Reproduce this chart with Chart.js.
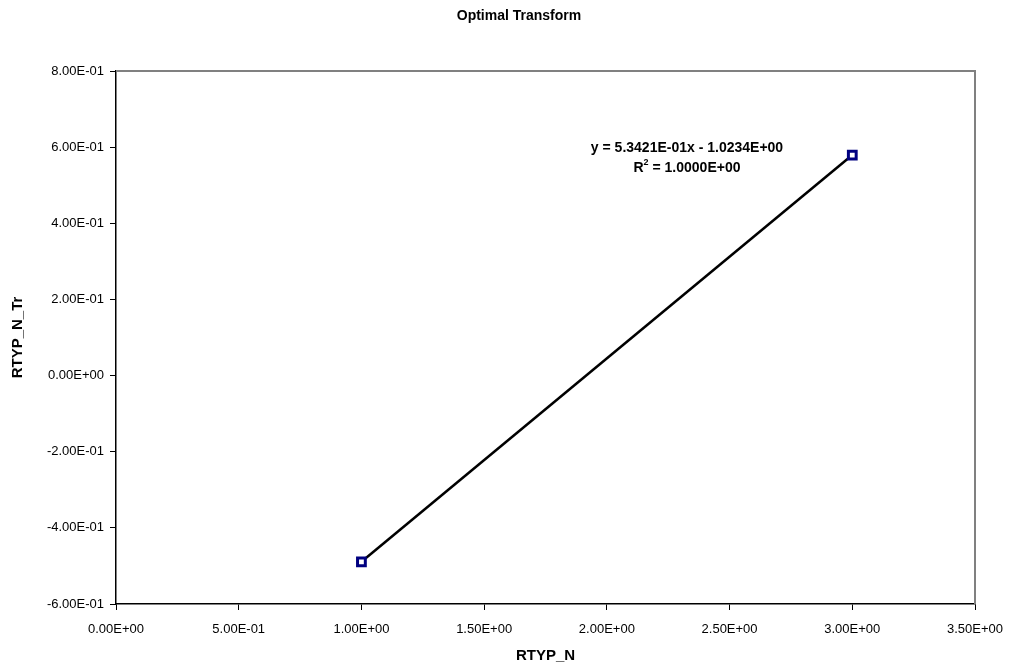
<!DOCTYPE html>
<html>
<head>
<meta charset="utf-8">
<script src="https://cdn.jsdelivr.net/npm/chart.js@4/dist/chart.umd.min.js"></script>
<style>
html,body{margin:0;padding:0;background:#fff;}
#wrap{width:1013px;height:671px;position:relative;}
</style>
</head>
<body>
<div id="wrap"><canvas id="c" width="1013" height="671"></canvas></div>
<script>
const chartTitle = "Optimal Transform";
const xAxisTitle = "RTYP_N";
const yAxisTitle = "RTYP_N_Tr";
const xValues = [1.0, 3.0];
const yValues = [-0.48919, 0.57923];
const xTickRange = [0, 3.5, 0.5];
const yTickRange = [-0.6, 0.8, 0.2];
const trendSlope = 0.53421;
const trendIntercept = -1.0234;
const equationLines = ["y = 5.3421E-01x - 1.0234E+00", "R", "2", " = 1.0000E+00"];

const FONT = "'Liberation Sans', Arial, sans-serif";

function fmtExp(v){
  v = Math.round(v*1e9)/1e9;
  let s = v.toExponential(2).toUpperCase();
  let m = s.match(/^(-?[\d.]+)E([+-])(\d+)$/);
  if(!m) return s;
  let e = m[3].length < 2 ? "0"+m[3] : m[3];
  return m[1]+"E"+m[2]+e;
}

const points = xValues.map((x,i)=>({x:x, y:yValues[i]}));
const trend = [xValues[0], xValues[xValues.length-1]].map(x=>({x:x, y:trendSlope*x+trendIntercept}));

const decor = {
  id:'decor',
  beforeDatasetsDraw(chart){
    const {ctx, chartArea:a} = chart;
    ctx.save();
    ctx.strokeStyle = '#808080';
    ctx.lineWidth = 2;
    ctx.beginPath();
    ctx.moveTo(a.left, a.top);
    ctx.lineTo(a.right, a.top);
    ctx.lineTo(a.right, a.bottom);
    ctx.stroke();
    ctx.restore();
  },
  afterDraw(chart){
    const {ctx, chartArea:a, scales} = chart;
    ctx.save();
    ctx.fillStyle = '#000';
    ctx.textBaseline = 'middle';
    ctx.textAlign = 'center';
    ctx.font = "bold 14px " + FONT;
    ctx.fillText(chartTitle, 519, 16);
    // equation
    ctx.font = "bold 14px " + FONT;
    const cx = 687, y1 = 148, y2 = 168;
    ctx.fillText(equationLines[0], cx, y1);
    const wR = ctx.measureText(equationLines[1]).width;
    const wRest = ctx.measureText(equationLines[3]).width;
    ctx.font = "bold 9px " + FONT;
    const w2 = ctx.measureText(equationLines[2]).width;
    const total = wR + w2 + wRest;
    let x0 = cx - total/2;
    ctx.textAlign = 'left';
    ctx.font = "bold 14px " + FONT;
    ctx.fillText(equationLines[1], x0, y2);
    ctx.font = "bold 9px " + FONT;
    ctx.fillText(equationLines[2], x0 + wR, y2 - 5);
    ctx.font = "bold 14px " + FONT;
    ctx.fillText(equationLines[3], x0 + wR + w2, y2);
    ctx.restore();
  }
};

new Chart(document.getElementById('c'), {
  type: 'scatter',
  data: {
    datasets: [
      {
        label: 'trend',
        data: trend,
        showLine: true,
        borderColor: '#000',
        borderWidth: 2.5,
        pointRadius: 0,
        order: 2
      },
      {
        label: 'data',
        data: points,
        showLine: false,
        pointStyle: 'rect',
        pointRadius: 5.5,
        pointBorderWidth: 3,
        pointBorderColor: '#000080',
        pointBackgroundColor: '#ffffff',
        order: 1
      }
    ]
  },
  options: {
    responsive: false,
    animation: false,
    devicePixelRatio: 1,
    layout: { padding: { left: 0, right: 38, top: 71, bottom: 0 } },
    plugins: { legend: { display: false }, tooltip: { enabled: false }, title: { display: false } },
    scales: {
      x: {
        type: 'linear',
        min: xTickRange[0], max: xTickRange[1],
        afterFit(s){ s.height = 67; s.paddingRight = 0; s.paddingLeft = 0; },
        ticks: { stepSize: xTickRange[2], color: '#000', font: { family: FONT, size: 13 }, padding: 12, maxRotation: 0, autoSkip: false,
                 callback: v => fmtExp(v) },
        grid: { display: true, drawOnChartArea: false, drawTicks: true, tickLength: 6, color: '#000', lineWidth: 1 },
        border: { display: true, color: '#000', width: 1.5 },
        title: { display: true, text: xAxisTitle, color: '#000', font: { family: FONT, size: 15, weight: 'bold' }, padding: { top: 0, bottom: 6 } }
      },
      y: {
        type: 'linear',
        min: yTickRange[0], max: yTickRange[1],
        afterFit(s){ s.width = 116; },
        ticks: { stepSize: yTickRange[2], color: '#000', font: { family: FONT, size: 13 }, padding: 6, autoSkip: false,
                 callback: v => fmtExp(v) },
        grid: { display: true, drawOnChartArea: false, drawTicks: true, tickLength: 6, color: '#000', lineWidth: 1 },
        border: { display: true, color: '#000', width: 1.5 },
        title: { display: true, text: yAxisTitle, color: '#000', font: { family: FONT, size: 15, weight: 'bold' }, padding: { top: 9, bottom: 0 } }
      }
    }
  },
  plugins: [decor]
});
</script>
</body>
</html>
